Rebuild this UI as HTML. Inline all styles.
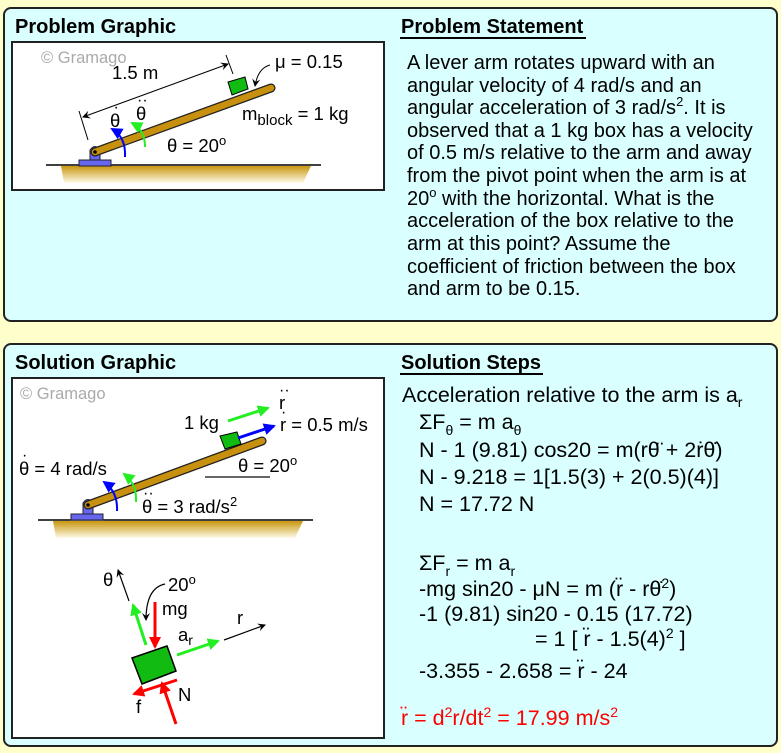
<!DOCTYPE html>
<html><head><meta charset="utf-8"><style>
html,body{margin:0;padding:0;background:#ffffcc;}
svg{display:block;font-family:"Liberation Sans",sans-serif;}
.t{font-size:20px;fill:#000;}
.q{font-size:21.5px;fill:#000;}
.s{font-size:18.5px;fill:#000;}
.h{font-size:20px;font-weight:bold;fill:#000;}
</style></head><body>
<svg width="781" height="753" viewBox="0 0 781 753" xmlns="http://www.w3.org/2000/svg">
<defs>
<linearGradient id="g" x1="0" y1="0" x2="0" y2="1"><stop offset="0" stop-color="#c8960f"/><stop offset="1" stop-color="#fffbe8"/></linearGradient>
<marker id="ak" markerWidth="8" markerHeight="8" refX="7" refY="4" orient="auto-start-reverse" markerUnits="userSpaceOnUse"><path d="M0,0L8,4L0,8L3,4z" fill="#000"/></marker>
<marker id="ab" markerWidth="12" markerHeight="12" refX="10" refY="6" orient="auto" markerUnits="userSpaceOnUse"><path d="M0,0L12,6L0,12z" fill="#0000ff"/></marker>
<marker id="ag" markerWidth="12" markerHeight="12" refX="10" refY="6" orient="auto" markerUnits="userSpaceOnUse"><path d="M0,0L12,6L0,12z" fill="#22ee22"/></marker>
<marker id="ar" markerWidth="12" markerHeight="12" refX="10" refY="6" orient="auto" markerUnits="userSpaceOnUse"><path d="M0,0L12,6L0,12z" fill="#ff0000"/></marker>
</defs>
<rect width="781" height="753" fill="#ffffcc"/>
<rect x="4" y="8" width="773" height="313" rx="7" fill="#d9ffff" stroke="#222" stroke-width="2"/>
<rect x="4" y="344" width="773" height="402" rx="7" fill="#d9ffff" stroke="#222" stroke-width="2"/>
<text x="15" y="33" class="h">Problem Graphic</text>
<text x="401" y="33" class="h">Problem Statement</text>
<line x1="400" y1="38" x2="586" y2="38" stroke="#000" stroke-width="2"/>
<text x="15" y="369" class="h">Solution Graphic</text>
<text x="401" y="369" class="h">Solution Steps</text>
<line x1="400" y1="374" x2="543" y2="374" stroke="#000" stroke-width="2"/>

<!-- problem graphic -->
<rect x="12" y="42" width="372" height="148" fill="#fff" stroke="#222" stroke-width="2"/>
<text x="41" y="63" font-size="16.5" fill="#aaa">© Gramago</text>
<path d="M61,166L311,166L303,183L64,183z" fill="url(#g)"/>
<line x1="46" y1="165" x2="321" y2="165" stroke="#000" stroke-width="1.5"/>
<rect x="79" y="160" width="32" height="6" fill="#6666ee" stroke="#223" stroke-width="1"/>
<path d="M90,160L90,150Q95,143 100,150L100,160z" fill="#6666ee" stroke="#223"/>
<line x1="95" y1="152" x2="271" y2="88" stroke="#222" stroke-width="9" stroke-linecap="round"/>
<line x1="95" y1="152" x2="271" y2="88" stroke="#c8900f" stroke-width="6.5" stroke-linecap="round"/>
<circle cx="95" cy="152" r="1.8" fill="#000"/>
<polygon points="228,82 245,77 248,89 232,95" fill="#11bb11" stroke="#000"/>
<line x1="79" y1="111" x2="88" y2="140" stroke="#000"/>
<line x1="226" y1="55" x2="233" y2="74" stroke="#000"/>
<line x1="83" y1="117" x2="228" y2="64" stroke="#000" marker-start="url(#ak)" marker-end="url(#ak)"/>
<path d="M270,65Q258,68 255,86" fill="none" stroke="#000" marker-end="url(#ak)"/>
<text x="112" y="79" class="s">1.5 m</text>
<text x="275" y="68" class="s">μ = 0.15</text>
<text x="242" y="120" class="s">m<tspan font-size="15" dy="5">block</tspan><tspan dy="-5"> = 1 kg</tspan></text>
<text x="167" y="152" class="s">θ = 20<tspan font-size="13" dy="-7">o</tspan></text>
<text x="110" y="127" class="s">θ</text><text x="113.5" y="112" font-size="16">·</text>
<text x="136" y="120" class="s">θ</text><text x="137" y="105" font-size="16">··</text>
<path d="M125,157Q126,137 112,129" fill="none" stroke="#0000ff" stroke-width="2" marker-end="url(#ab)"/>
<path d="M145,147Q145,130 132,123" fill="none" stroke="#22ee22" stroke-width="2" marker-end="url(#ag)"/>

<!-- statement -->
<text x="407" y="69" class="t">A lever arm rotates upward with an</text>
<text x="407" y="92" class="t">angular velocity of 4 rad/s and an</text>
<text x="407" y="114" class="t">angular acceleration of 3 rad/s<tspan font-size="13" dy="-8">2</tspan><tspan dy="8">. It is</tspan></text>
<text x="407" y="137" class="t">observed that a 1 kg box has a velocity</text>
<text x="407" y="159" class="t">of 0.5 m/s relative to the arm and away</text>
<text x="407" y="182" class="t">from the pivot point when the arm is at</text>
<text x="407" y="205" class="t">20<tspan font-size="13" dy="-8">o</tspan><tspan dy="8"> with the horizontal. What is the</tspan></text>
<text x="407" y="227" class="t">acceleration of the box relative to the</text>
<text x="407" y="250" class="t">arm at this point? Assume the</text>
<text x="407" y="273" class="t">coefficient of friction between the box</text>
<text x="407" y="295" class="t">and arm to be 0.15.</text>

<!-- solution graphic -->
<rect x="12" y="378" width="372" height="360" fill="#fff" stroke="#222" stroke-width="2"/>
<text x="20" y="399" font-size="16.5" fill="#aaa">© Gramago</text>
<path d="M53,521L303,521L295,538L56,538z" fill="url(#g)"/>
<line x1="38" y1="520" x2="313" y2="520" stroke="#000" stroke-width="1.5"/>
<rect x="71" y="514" width="32" height="6" fill="#6666ee" stroke="#223"/>
<path d="M83,514L83,503Q88,496 93,503L93,514z" fill="#6666ee" stroke="#223"/>
<line x1="88" y1="505" x2="262" y2="441" stroke="#222" stroke-width="9" stroke-linecap="round"/>
<line x1="88" y1="505" x2="262" y2="441" stroke="#c8900f" stroke-width="6.5" stroke-linecap="round"/>
<circle cx="88" cy="505" r="1.8" fill="#000"/>
<polygon points="220,436 237,432 241,444 225,449" fill="#11bb11" stroke="#000"/>
<line x1="228" y1="421" x2="268" y2="408" stroke="#22ee22" stroke-width="3" marker-end="url(#ag)"/>
<line x1="238" y1="438" x2="274" y2="426" stroke="#0000ff" stroke-width="3" marker-end="url(#ab)"/>
<text x="184" y="429" class="s">1 kg</text>
<text x="279" y="409" class="s">r</text><text x="279" y="395" font-size="16">··</text>
<text x="280" y="431" class="s">r = 0.5 m/s</text><text x="281" y="417" font-size="16">·</text>
<text x="238" y="472" class="s">θ = 20<tspan font-size="13" dy="-7">o</tspan></text>
<line x1="205" y1="477" x2="270" y2="477" stroke="#333" stroke-width="1.5"/>
<text x="19" y="475" class="s">θ = 4 rad/s</text><text x="22" y="460" font-size="16">·</text>
<text x="142" y="513" class="s">θ = 3 rad/s<tspan font-size="13" dy="-7">2</tspan></text><text x="143" y="498" font-size="16">··</text>
<path d="M117,511Q118,492 104,482" fill="none" stroke="#0000ff" stroke-width="2" marker-end="url(#ab)"/>
<path d="M136,502Q137,484 124,474" fill="none" stroke="#22ee22" stroke-width="2" marker-end="url(#ag)"/>

<!-- FBD -->
<polygon points="132,658 167,646 176,671 142,684" fill="#11bb11" stroke="#000" stroke-width="1.5"/>
<line x1="155" y1="602" x2="155" y2="647" stroke="#ff0000" stroke-width="3" marker-end="url(#ar)"/>
<line x1="146" y1="645" x2="133" y2="605" stroke="#22ee22" stroke-width="3" marker-end="url(#ag)"/>
<line x1="129" y1="601" x2="118" y2="570" stroke="#000" stroke-width="1.2" marker-end="url(#ak)"/>
<text x="103" y="586" class="s">θ</text>
<text x="168" y="591" class="s">20<tspan font-size="13" dy="-7">o</tspan></text>
<path d="M165,584Q146,588 146,620" fill="none" stroke="#000" stroke-width="1.2" marker-end="url(#ak)"/>
<text x="162" y="615" class="s">mg</text>
<line x1="177" y1="655" x2="218" y2="641" stroke="#22ee22" stroke-width="3" marker-end="url(#ag)"/>
<text x="178" y="641" class="s">a<tspan font-size="14" dy="4">r</tspan></text>
<line x1="224" y1="640" x2="265" y2="625" stroke="#000" stroke-width="1.2" marker-end="url(#ak)"/>
<text x="237" y="624" class="s">r</text>
<line x1="176" y1="724" x2="162" y2="683" stroke="#ff0000" stroke-width="3" marker-end="url(#ar)"/>
<line x1="177" y1="680" x2="134" y2="694" stroke="#ff0000" stroke-width="3" marker-end="url(#ar)"/>
<text x="178" y="701" class="s">N</text>
<text x="136" y="713" class="s">f</text>

<!-- steps -->
<text x="402" y="402" class="q">Acceleration relative to the arm is a<tspan font-size="14" dy="5">r</tspan></text>
<text x="419" y="429" class="q">ΣF<tspan font-size="14" dy="6">θ</tspan><tspan dy="-6"> = m a</tspan><tspan font-size="14" dy="6">θ</tspan></text>
<text x="419" y="457" class="q">N - 1 (9.81) cos20 = m(rθ̈ + 2ṙθ̇)</text>
<text x="419" y="484" class="q">N - 9.218 = 1[1.5(3) + 2(0.5)(4)]</text>
<text x="419" y="511" class="q">N = 17.72 N</text>
<text x="419" y="570" class="q">ΣF<tspan font-size="14" dy="6">r</tspan><tspan dy="-6"> = m a</tspan><tspan font-size="14" dy="6">r</tspan></text>
<text x="419" y="596" class="q">-mg sin20 - μN = m (r̈ - rθ̇<tspan font-size="14" dy="-8">2</tspan><tspan dy="8">)</tspan></text>
<text x="419" y="621" class="q">-1 (9.81) sin20 - 0.15 (17.72)</text>
<text x="535" y="646" class="q">= 1 [ r̈ - 1.5(4)<tspan font-size="14" dy="-8">2</tspan><tspan dy="8"> ]</tspan></text>
<text x="419" y="678" class="q">-3.355 - 2.658 = r̈ - 24</text>
<text x="401" y="725" class="q" style="fill:#ff0000">r̈ = d<tspan font-size="14" dy="-8">2</tspan><tspan dy="8">r/dt</tspan><tspan font-size="14" dy="-8">2</tspan><tspan dy="8"> = 17.99 m/s</tspan><tspan font-size="14" dy="-8">2</tspan></text>
</svg>
</body></html>
